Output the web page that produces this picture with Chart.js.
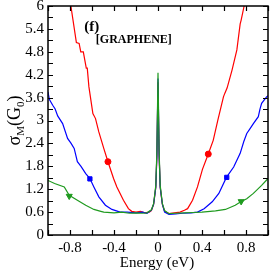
<!DOCTYPE html>
<html>
<head>
<meta charset="utf-8">
<script src="https://cdn.jsdelivr.net/npm/chart.js@4"></script>
<style>
html,body{margin:0;padding:0;background:#fff;}
#wrap{width:273px;height:273px;}
</style>
</head>
<body>
<div id="wrap"><canvas id="c" width="273" height="273"></canvas></div>
<script>
// ---- data ----
const redEnergy = [-1, -0.85, -0.792, -0.742, -0.717, -0.702, -0.679, -0.652, -0.643, -0.628, -0.592, -0.568, -0.538, -0.493, -0.455, -0.404, -0.374, -0.314, -0.269, -0.239, -0.2, -0.16, -0.12, -0.08, -0.06, -0.04, -0.02, -0.01, 0, 0.01, 0.02, 0.04, 0.06, 0.1, 0.15, 0.2, 0.24, 0.269, 0.314, 0.359, 0.404, 0.457, 0.502, 0.544, 0.595, 0.607, 0.628, 0.673, 0.717, 0.747, 0.756, 0.783, 0.85, 1];
const redValues = [8.6, 6.8, 6.0, 5.04, 5.02, 4.80, 4.80, 4.37, 4.37, 3.88, 3.18, 3.05, 2.70, 2.27, 1.92, 1.48, 1.26, 0.91, 0.69, 0.62, 0.6, 0.62, 0.58, 0.6, 0.64, 0.8, 1.25, 2.1, 4.0, 2.1, 1.25, 0.8, 0.62, 0.56, 0.58, 0.6, 0.65, 0.69, 0.91, 1.26, 1.72, 2.12, 2.48, 3.01, 3.62, 3.71, 3.85, 4.32, 4.85, 5.53, 5.63, 6.0, 7.0, 9.0];
const blueEnergy = [-1, -0.987, -0.957, -0.935, -0.912, -0.867, -0.822, -0.79, -0.762, -0.733, -0.7, -0.657, -0.619, -0.583, -0.538, -0.478, -0.419, -0.344, -0.28, -0.2, -0.14, -0.1, -0.06, -0.04, -0.02, -0.01, 0, 0.01, 0.02, 0.04, 0.06, 0.1, 0.16, 0.22, 0.3, 0.359, 0.419, 0.493, 0.553, 0.622, 0.688, 0.747, 0.78, 0.807, 0.84, 0.867, 0.912, 0.927, 0.942, 0.987, 1];
const blueValues = [3.75, 3.55, 3.40, 3.3, 3.12, 2.92, 2.53, 2.4, 2.27, 1.92, 1.8, 1.61, 1.48, 1.26, 1.0, 0.78, 0.67, 0.60, 0.6, 0.58, 0.6, 0.57, 0.65, 0.8, 1.25, 2.1, 4.1, 2.1, 1.25, 0.8, 0.6, 0.54, 0.55, 0.57, 0.58, 0.60, 0.69, 0.87, 1.09, 1.51, 1.78, 2.14, 2.45, 2.66, 2.8, 2.92, 3.10, 3.3, 3.45, 3.62, 3.65];
const greenEnergy = [-1, -0.94, -0.852, -0.807, -0.733, -0.657, -0.583, -0.52, -0.493, -0.4, -0.33, -0.26, -0.2, -0.14, -0.1, -0.06, -0.04, -0.02, -0.01, 0, 0.01, 0.02, 0.04, 0.06, 0.1, 0.16, 0.24, 0.32, 0.4, 0.523, 0.613, 0.702, 0.756, 0.807, 0.867, 0.942, 1];
const greenValues = [1.43, 1.35, 1.26, 1.04, 0.91, 0.78, 0.67, 0.62, 0.60, 0.58, 0.6, 0.57, 0.58, 0.57, 0.58, 0.66, 0.82, 1.3, 2.2, 4.25, 2.2, 1.3, 0.82, 0.64, 0.56, 0.57, 0.58, 0.59, 0.60, 0.63, 0.67, 0.78, 0.88, 0.95, 1.09, 1.30, 1.48];
const redMarkerE = [-0.455, 0.457];
const redMarkerV = [1.92, 2.12];
const blueMarkerE = [-0.619, 0.625];
const blueMarkerV = [1.47, 1.51];
const greenMarkerE = [-0.807, 0.756];
const greenMarkerV = [1.02, 0.88];
const xTickLabels = [-0.8, -0.4, 0, 0.4, 0.8];
const yTickLabels = [0, 0.6, 1.2, 1.8, 2.4, 3, 3.6, 4.2, 4.8, 5.4, 6];
const panelLabel = "(f)";
const panelName = "[GRAPHENE]";
const xTitle = "Energy (eV)";

const RED = '#ff0000', BLUE = '#0000ff', GREEN = '#1f9a1f';
const pts = (xs, ys) => xs.map((x, i) => ({x: x, y: ys[i]}));

const lineDs = (xs, vals, col, ord) => ({
  type: 'line', data: pts(xs, vals), borderColor: col, borderWidth: 1.2,
  pointRadius: 0, tension: 0, fill: false, order: ord
});
const markDs = (xs, ys, col, style, rot, r, ord) => ({
  type: 'scatter', data: pts(xs, ys), showLine: false, backgroundColor: col, borderColor: col,
  pointStyle: style, rotation: rot, pointRadius: r, borderWidth: 1, order: ord
});

const decor = {
  id: 'decor',
  afterDraw(chart) {
    const ctx = chart.ctx, a = chart.chartArea, xs = chart.scales.x, ys = chart.scales.y;
    ctx.save();
    ctx.strokeStyle = '#000';
    ctx.lineWidth = 1.5;
    ctx.strokeRect(a.left, a.top, a.right - a.left, a.bottom - a.top);
    ctx.lineWidth = 1.2;
    ctx.beginPath();
    for (let i = 0; i <= 10; i++) {
      const px = Math.round(xs.getPixelForValue(-1 + i * 0.2)) + 0.5;
      ctx.moveTo(px, a.bottom); ctx.lineTo(px, a.bottom - 5);
      ctx.moveTo(px, a.top); ctx.lineTo(px, a.top + 5);
    }
    for (let i = 0; i <= 20; i++) {
      const py = Math.round(ys.getPixelForValue(i * 0.3)) + 0.5;
      ctx.moveTo(a.left, py); ctx.lineTo(a.left + 5, py);
      ctx.moveTo(a.right, py); ctx.lineTo(a.right - 5, py);
    }
    ctx.stroke();
    // annotations
    ctx.fillStyle = '#000';
    ctx.textBaseline = 'alphabetic';
    ctx.font = 'bold 15px "Liberation Serif"';
    ctx.fillText(panelLabel, xs.getPixelForValue(-0.67), ys.getPixelForValue(5.34));
    ctx.font = 'bold 12px "Liberation Serif"';
    ctx.fillText(panelName, xs.getPixelForValue(-0.565), ys.getPixelForValue(5.03));
    // x title
    ctx.font = '15px "Liberation Serif"';
    ctx.textAlign = 'center';
    ctx.fillText(xTitle, (a.left + a.right) / 2 - 1, 267);
    // y title with subscripts
    ctx.textAlign = 'left';
    ctx.translate(20, (a.top + a.bottom) / 2);
    ctx.rotate(-Math.PI / 2);
    const parts = [['σ', 18, 0], ['M', 11, 4], ['(G', 18, 0], ['0', 11, 4], [')', 18, 0]];
    let tot = 0;
    parts.forEach(p => { ctx.font = p[1] + 'px "Liberation Serif"'; tot += ctx.measureText(p[0]).width; });
    let x = -tot / 2;
    parts.forEach(p => { ctx.font = p[1] + 'px "Liberation Serif"'; ctx.fillText(p[0], x, p[2]); x += ctx.measureText(p[0]).width; });
    ctx.restore();
  }
};

new Chart(document.getElementById('c'), {
  type: 'line',
  data: {
    datasets: [
      markDs(greenMarkerE, greenMarkerV, GREEN, 'triangle', 180, 3.5, 0),
      markDs(blueMarkerE, blueMarkerV, BLUE, 'rect', 0, 3, 1),
      markDs(redMarkerE, redMarkerV, RED, 'circle', 0, 3, 2),
      lineDs(greenEnergy, greenValues, GREEN, 3),
      lineDs(blueEnergy, blueValues, BLUE, 4),
      lineDs(redEnergy, redValues, RED, 5)
    ]
  },
  options: {
    responsive: false, animation: false, devicePixelRatio: 1,
    layout: {padding: {top: 6, right: 2, left: 0, bottom: 0}},
    plugins: {legend: {display: false}, tooltip: {enabled: false}},
    scales: {
      x: {
        type: 'linear', min: -1, max: 1,
        afterBuildTicks: s => { s.ticks = xTickLabels.map(v => ({value: v})); },
        afterFit: s => { s.height = 38; s.paddingLeft = 0; s.paddingRight = 0; },
        grid: {display: false, drawTicks: false},
        border: {display: false},
        ticks: {color: '#000', padding: 4, maxRotation: 0, font: {family: '"Liberation Serif"', size: 15},
                callback: v => String(v)}
      },
      y: {
        type: 'linear', min: 0, max: 6,
        afterBuildTicks: s => { s.ticks = yTickLabels.map(v => ({value: v})); },
        afterFit: s => { s.width = 48; s.paddingTop = 0; s.paddingBottom = 0; },
        grid: {display: false, drawTicks: false},
        border: {display: false},
        ticks: {color: '#000', padding: 4, font: {family: '"Liberation Serif"', size: 15},
                callback: v => String(v)}
      }
    }
  },
  plugins: [decor]
});
</script>
</body>
</html>
